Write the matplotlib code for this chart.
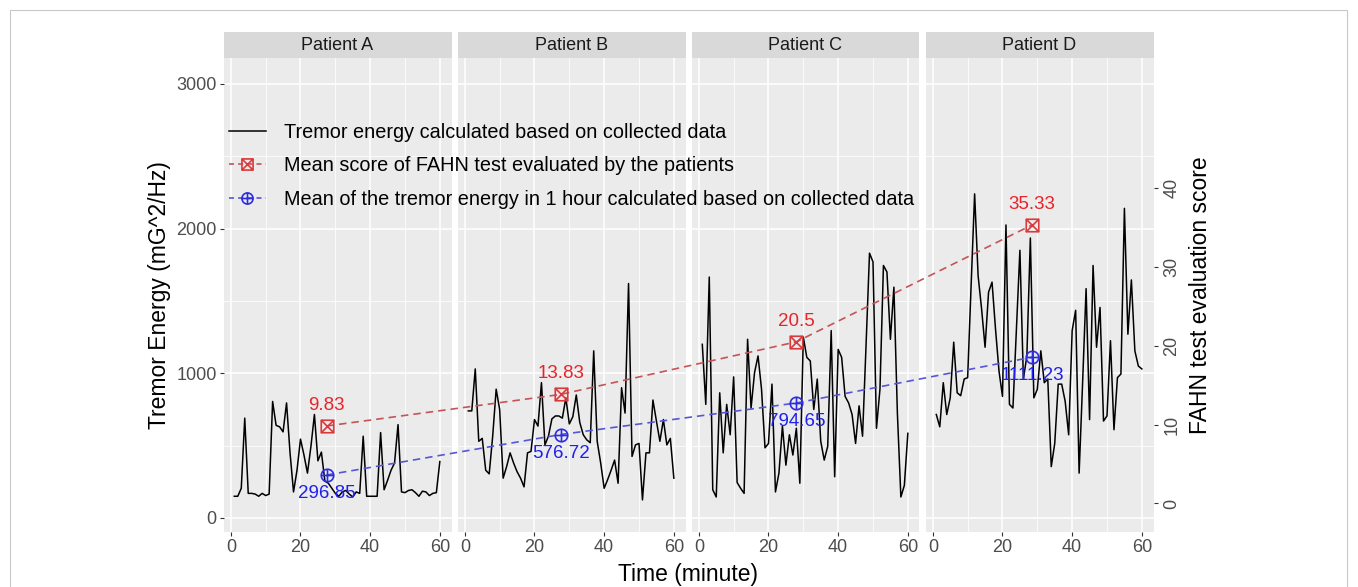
import matplotlib
matplotlib.use("Agg")
import matplotlib.pyplot as plt
import numpy as np
from matplotlib.lines import Line2D
from matplotlib.patches import Rectangle
from matplotlib.path import Path

plt.rcParams["font.family"] = ["Liberation Sans", "DejaVu Sans"]

# ---- data ----
patients = ["Patient A", "Patient B", "Patient C", "Patient D"]
minutes = np.arange(1, 61)
energy_a = [150, 150, 205, 690, 170, 170, 165, 150, 170, 155, 165, 805, 640, 630, 595,
            795, 450, 180, 330, 545, 435, 310, 495, 715, 395, 455, 255, 240, 205, 170,
            150, 180, 190, 165, 145, 180, 170, 565, 150, 150, 150, 150, 590, 195, 260,
            330, 380, 645, 180, 175, 190, 195, 175, 150, 185, 180, 155, 170, 175, 390]
energy_b = [740, 740, 1030, 530, 550, 330, 305, 565, 890, 750, 275, 355, 450, 380, 320,
            275, 215, 450, 460, 680, 635, 935, 505, 565, 685, 705, 705, 690, 830, 650,
            700, 850, 660, 575, 540, 520, 1155, 530, 380, 205, 265, 330, 400, 240, 900,
            725, 1620, 425, 505, 515, 125, 450, 450, 815, 670, 530, 680, 505, 550, 275]
energy_c = [1200, 785, 1665, 195, 145, 865, 450, 785, 575, 975, 245, 205, 170, 1235, 760,
            1005, 1120, 890, 485, 515, 925, 180, 310, 635, 365, 575, 435, 620, 240, 1250,
            1110, 1085, 750, 960, 530, 400, 495, 1295, 285, 1165, 1110, 840, 795, 715, 515,
            775, 565, 1190, 1830, 1770, 620, 890, 1745, 1700, 1235, 1595, 725, 145, 225, 585]
energy_d = [715, 630, 935, 715, 830, 1215, 865, 845, 960, 970, 1610, 2240, 1675, 1445, 1180,
            1560, 1630, 1305, 1015, 840, 2025, 785, 760, 1305, 1850, 960, 1120, 1935, 830, 890,
            1155, 935, 960, 355, 515, 925, 925, 805, 575, 1295, 1435, 310, 935, 1585, 680,
            1745, 1180, 1455, 670, 705, 1225, 610, 970, 995, 2140, 1270, 1645, 1155, 1050, 1030]
energies = [energy_a, energy_b, energy_c, energy_d]

mean_time = [27.5, 27.5, 28, 28.5]
fahn_score = [9.83, 13.83, 20.5, 35.33]
mean_energy = [296.85, 576.72, 794.65, 1111.23]

legend_labels = ["Tremor energy calculated based on collected data",
                 "Mean score of FAHN test evaluated by the patients",
                 "Mean of the tremor energy in 1 hour calculated based on collected data"]

# secondary (score) axis mapping used by the original plot
SEC_A, SEC_B = 100.0, 54.5


def to_score(e):
    return (np.asarray(e) - SEC_A) / SEC_B


def to_energy(s):
    return SEC_A + SEC_B * np.asarray(s)


RED_LINE, RED_MK, RED_TXT = "#C65355", "#D93A3D", "#E8232A"
BLUE_LINE, BLUE_MK, BLUE_TXT = "#5656D8", "#2D2DE0", "#1F1FEE"
GREY = "#4D4D4D"

square_x = Path([(-1, -1), (1, -1), (1, 1), (-1, 1), (-1, -1), (-1, -1), (1, 1), (-1, 1), (1, -1)],
                [Path.MOVETO, Path.LINETO, Path.LINETO, Path.LINETO, Path.CLOSEPOLY,
                 Path.MOVETO, Path.LINETO, Path.MOVETO, Path.LINETO])
circle_plus = Path.make_compound_path(
    Path.unit_circle(),
    Path([(-1, 0), (1, 0), (0, -1), (0, 1)], [Path.MOVETO, Path.LINETO, Path.MOVETO, Path.LINETO]))

W, H = 1358, 587
fig = plt.figure(figsize=(W / 100, H / 100), dpi=100)
lefts = [223.5, 457.5, 691.5, 925.5]
pw, top, bottom, strip_h = 228, 58, 532, 26

axes = []
for k, (l, name, y) in enumerate(zip(lefts, patients, energies)):
    ax = fig.add_axes([l / W, 1 - bottom / H, pw / W, (bottom - top) / H])
    ax.set_facecolor("#EBEBEB")
    for s in ax.spines.values():
        s.set_visible(False)
    ax.plot(minutes, y, color="black", lw=1.1)
    ax.set_xlim(-2.1, 63.35)
    ax.set_ylim(-97, 3179)
    ax.set_xticks([0, 20, 40, 60])
    ax.set_xticks([10, 30, 50], minor=True)
    ax.set_yticks([0, 1000, 2000, 3000])
    ax.set_yticks([500, 1500, 2500], minor=True)
    ax.grid(which="major", color="white", lw=1.1)
    ax.grid(which="minor", color="white", lw=0.55)
    ax.set_axisbelow(True)
    ax.tick_params(which="major", length=3, pad=2, color="#333333", labelcolor=GREY, labelsize=13)
    ax.tick_params(which="minor", length=0)
    if k > 0:
        ax.tick_params(left=False, labelleft=False)
    sax = fig.add_axes([l / W, 1 - top / H, pw / W, strip_h / H])
    sax.set_facecolor("#D9D9D9")
    sax.set_xticks([]); sax.set_yticks([])
    for s in sax.spines.values():
        s.set_visible(False)
    sax.text(0.5, 0.48, name, ha="center", va="center", fontsize=13, color="#1A1A1A",
             transform=sax.transAxes)
    axes.append(ax)

axes[0].set_ylabel("Tremor Energy (mG^2/Hz)", fontsize=16.5, labelpad=4)

sec = axes[3].secondary_yaxis("right", functions=(to_score, to_energy))
sec.set_yticks([0, 10, 20, 30, 40])
sec.tick_params(length=3, pad=4, color="#333333", labelcolor=GREY, labelsize=13, labelrotation=90)
for t in sec.get_yticklabels():
    t.set_va("center")
sec.spines["right"].set_visible(False)
sec.set_ylabel("FAHN test evaluation score", fontsize=16.5, labelpad=6)

fig.text(688 / W, 1 - 574 / H, "Time (minute)", ha="center", va="center", fontsize=16.5)

# mean lines cross the panels, so draw them in figure coordinates
to_fig = fig.transFigure.inverted()
red_pts = to_fig.transform([axes[k].transData.transform((mean_time[k], float(to_energy(fahn_score[k]))))
                            for k in range(4)])
blue_pts = to_fig.transform([axes[k].transData.transform((mean_time[k], mean_energy[k]))
                             for k in range(4)])
fig.add_artist(Line2D(red_pts[:, 0], red_pts[:, 1], transform=fig.transFigure, color=RED_LINE,
                      lw=1.2, dashes=(4.5, 3), marker=square_x, ms=9, mfc="none", mec=RED_MK, mew=1.2))
fig.add_artist(Line2D(blue_pts[:, 0], blue_pts[:, 1], transform=fig.transFigure, color=BLUE_LINE,
                      lw=1.2, dashes=(4.5, 3), marker=circle_plus, ms=9, mfc="none", mec=BLUE_MK, mew=1.2))

for k in range(4):
    axes[k].annotate(f"{fahn_score[k]:g}", (mean_time[k], float(to_energy(fahn_score[k]))),
                     xytext=(0, 15), textcoords="offset points", ha="center", va="center",
                     fontsize=13.5, color=RED_TXT, annotation_clip=False, zorder=6)
    axes[k].annotate(f"{mean_energy[k]:g}", (mean_time[k], mean_energy[k]),
                     xytext=(0, -13.5), textcoords="offset points", ha="center", va="center",
                     fontsize=13.5, color=BLUE_TXT, annotation_clip=False, zorder=6)

handles = [Line2D([], [], color="black", lw=1.1),
           Line2D([], [], color=RED_LINE, lw=1.2, dashes=(3, 2.5), marker=square_x, ms=8,
                  mfc="none", mec=RED_MK, mew=1.2),
           Line2D([], [], color=BLUE_LINE, lw=1.2, dashes=(3, 2.5), marker=circle_plus, ms=8,
                  mfc="none", mec=BLUE_MK, mew=1.2)]
fig.legend(handles, legend_labels, loc="upper left", bbox_to_anchor=(229 / W, 1 - 122.5 / H),
           frameon=False, fontsize=14.3, handlelength=1.86, handletextpad=0.92, labelspacing=0.74,
           borderpad=0, borderaxespad=0)

fig.add_artist(Rectangle((10 / W, -0.05), 1337 / W, (H - 10) / H + 0.05, transform=fig.transFigure,
                         fill=False, edgecolor="#C8C8C8", lw=0.8))

fig.savefig("out.png", dpi=100)
